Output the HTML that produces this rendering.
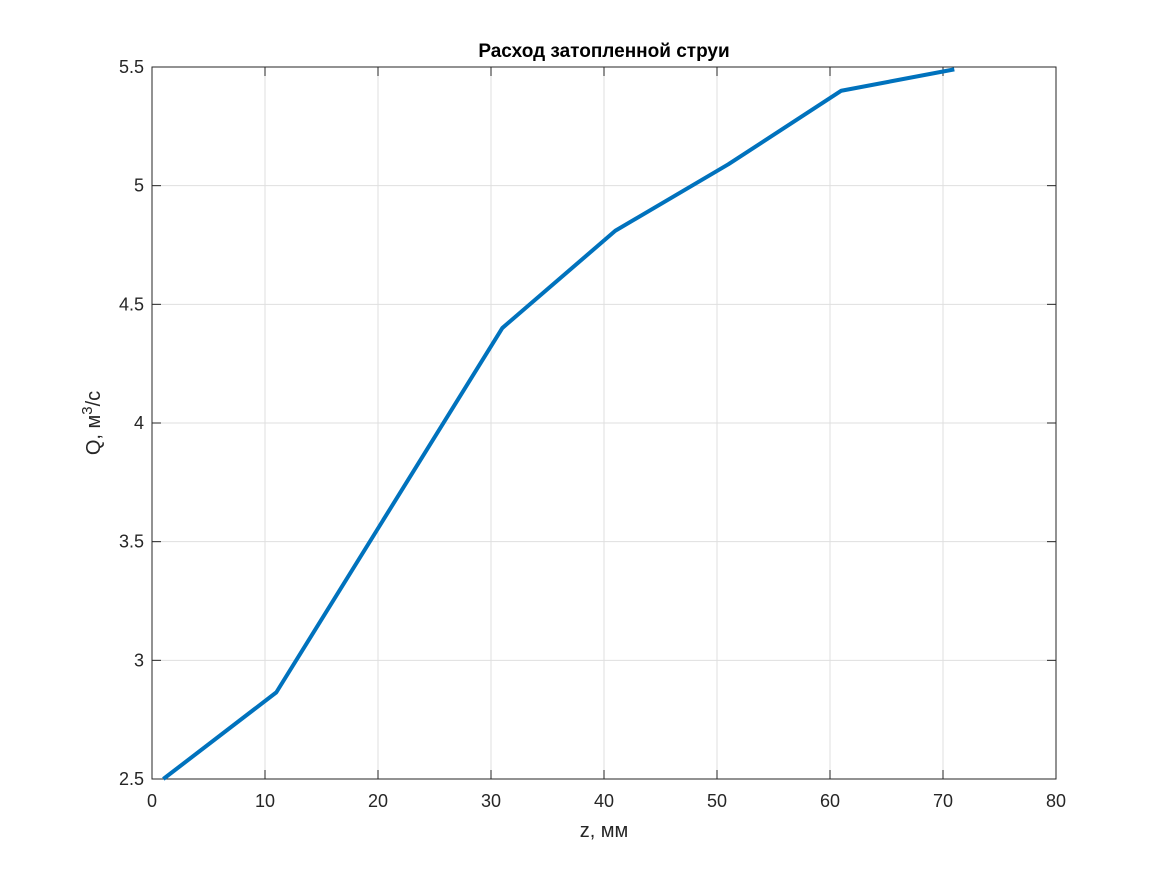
<!DOCTYPE html>
<html><head><meta charset="utf-8"><style>
body{margin:0;background:#fff;}
svg{display:block;font-family:"Liberation Sans",sans-serif;}
</style></head><body>
<svg id="chart" width="1167" height="875">
<rect width="1167" height="875" fill="#fff"/>
<g id="grid"></g>
<g id="axes"></g>
<polyline id="line" fill="none" stroke="#0072BD" stroke-width="4" stroke-linejoin="round"/>
<text x="604" y="57" text-anchor="middle" font-size="19" font-weight="bold" fill="#000">Расход затопленной струи</text>
<text x="604" y="837" text-anchor="middle" font-size="20" fill="#262626">z, мм</text>
<text transform="translate(100,423) rotate(-90)" text-anchor="middle" font-size="20" fill="#262626">Q, м<tspan dy="-8" font-size="15">3</tspan><tspan dy="8">/с</tspan></text>
</svg>
<script>
const xVals=[1,11,31,41,51,61,71];
const yVals=[2.5,2.865,4.40,4.81,5.09,5.40,5.49];
const xTicks=[0,10,20,30,40,50,60,70,80];
const yTicks=[2.5,3,3.5,4,4.5,5,5.5];
const L=152,R=1056,T=67,B=779,xMin=0,xMax=80,yMin=2.5,yMax=5.5;
const sx=v=>L+(v-xMin)/(xMax-xMin)*(R-L);
const sy=v=>B-(v-yMin)/(yMax-yMin)*(B-T);
const NS="http://www.w3.org/2000/svg";
const grid=document.getElementById('grid'),axes=document.getElementById('axes');
function mk(p,tag,attrs){const e=document.createElementNS(NS,tag);for(const k in attrs)e.setAttribute(k,attrs[k]);p.appendChild(e);return e;}
xTicks.forEach(t=>{const x=sx(t);
 const g=mk(grid,'line',{x1:x,x2:x,y1:T,y2:B,stroke:'#dfdfdf','stroke-width':1});
 
 
 mk(axes,'line',{x1:x,x2:x,y1:B,y2:B-9,stroke:'#262626'});
 mk(axes,'line',{x1:x,x2:x,y1:T,y2:T+9,stroke:'#262626'});
 const lb=mk(axes,'text',{x:x,y:B+28,'text-anchor':'middle','font-size':18,fill:'#262626'});lb.textContent=t;
 
 
});
yTicks.forEach(t=>{const y=sy(t);
 const g=mk(grid,'line',{x1:L,x2:R,y1:y,y2:y,stroke:'#dfdfdf','stroke-width':1});
 
 
 mk(axes,'line',{x1:L,x2:L+9,y1:y,y2:y,stroke:'#262626'});
 mk(axes,'line',{x1:R,x2:R-9,y1:y,y2:y,stroke:'#262626'});
 const lb=mk(axes,'text',{x:L-8,y:y+6,'text-anchor':'end','font-size':18,fill:'#262626'});lb.textContent=t;
 
 
});
const box=mk(axes,'rect',{x:L,y:T,width:R-L,height:B-T,fill:'none',stroke:'#262626','stroke-width':1});


document.getElementById('line').setAttribute('points',xVals.map((v,i)=>sx(v)+','+sy(yVals[i])).join(' '));
</script>
</body></html>
